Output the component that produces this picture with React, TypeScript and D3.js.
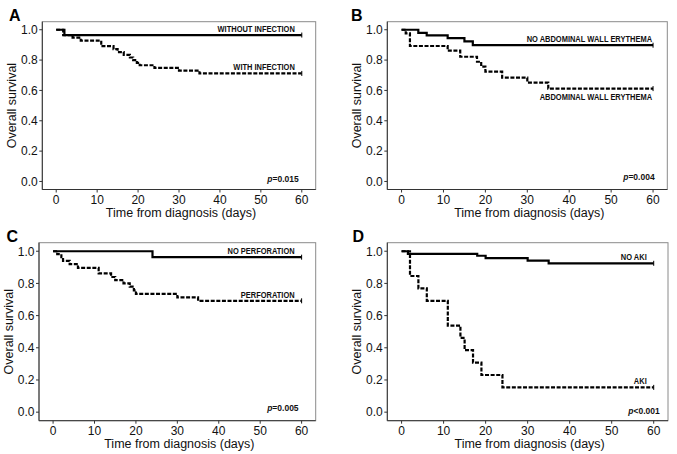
import React from "react";
import * as d3 from "d3";

// ---------- data ----------
const xTicks = [0, 10, 20, 30, 40, 50, 60];
const yTicks = [0, 0.2, 0.4, 0.6, 0.8, 1.0];
const panelLetters = ["A", "B", "C", "D"];

// [time (days), survival]
const aWithoutInfection: [number, number][] = [[0, 1], [2, 0.965]];
const aWithInfection: [number, number][] = [
  [0, 1], [1.7, 0.965], [4, 0.948], [6, 0.928], [11, 0.892], [14, 0.872], [15, 0.853],
  [16.5, 0.835], [18, 0.817], [18.8, 0.8], [19.7, 0.782], [20.4, 0.766], [24, 0.749],
  [30, 0.731], [35, 0.712],
];
const bNoErythema: [number, number][] = [
  [0, 1], [4, 0.98], [6, 0.963], [11, 0.945], [15, 0.923], [17, 0.898],
];
const bErythema: [number, number][] = [
  [0, 1], [1, 0.976], [2, 0.893], [11, 0.862], [14, 0.822], [18, 0.789], [19, 0.757],
  [20, 0.724], [24, 0.684], [30, 0.652], [35, 0.612],
];
const cNoPerforation: [number, number][] = [[0, 1], [24, 0.963]];
const cPerforation: [number, number][] = [
  [0, 1], [1, 0.982], [2, 0.963], [2.4, 0.94], [4, 0.92], [6, 0.896], [11, 0.862],
  [14, 0.84], [15, 0.82], [17, 0.8], [18.5, 0.78], [19.5, 0.757], [20, 0.735],
  [30, 0.713], [35, 0.692],
];
const dNoAki: [number, number][] = [
  [0, 1], [1.5, 0.984], [18, 0.972], [20, 0.957], [30, 0.942], [35, 0.925],
];
const dAki: [number, number][] = [
  [0, 1], [2, 0.846], [4, 0.769], [6, 0.692], [11, 0.538], [14, 0.462], [15, 0.385],
  [17, 0.308], [19, 0.231], [24, 0.154],
];

const solidLabels = ["WITHOUT INFECTION", "NO ABDOMINAL WALL ERYTHEMA", "NO PERFORATION", "NO AKI"];
const dashedLabels = ["WITH INFECTION", "ABDOMINAL WALL ERYTHEMA", "PERFORATION", "AKI"];
const pValues = ["=0.015", "=0.004", "=0.005", "<0.001"];
const solidSeries = [aWithoutInfection, bNoErythema, cNoPerforation, dNoAki];
const dashedSeries = [aWithInfection, bErythema, cPerforation, dAki];

const xTitle = "Time from diagnosis (days)";
const yTitle = "Overall survival";

// ---------- layout ----------
const layouts = [
  { l: 42.3, r: 315.7, t: 21.7, b: 189.5, lx: 9, ly: 20.5, labInset: 7, pDx: -3, pDy: 0.3, dashedBelow: false },
  { l: 387.3, r: 667.3, t: 21.7, b: 189.5, lx: 351, ly: 20.5, labInset: 1, pDx: 1.6, pDy: -1.7, dashedBelow: true },
  { l: 39, r: 315.7, t: 242.7, b: 420.7, lx: 6.5, ly: 242, labInset: 7, pDx: -3, pDy: -1.5, dashedBelow: false },
  { l: 387.3, r: 668, t: 242.7, b: 420.7, lx: 352.5, ly: 242, labInset: 7, pDx: 6, pDy: 2, dashedBelow: false },
];

const FONT = "Arial, 'Liberation Sans', sans-serif";

function Panel({ i }: { i: number }) {
  const L = layouts[i];
  const x = d3.scaleLinear().domain([-3.4, 63.4]).range([L.l, L.r]);
  const y = d3.scaleLinear().domain([-0.053, 1.053]).range([L.b, L.t]);
  const line = d3
    .line<[number, number]>()
    .x((d) => x(d[0]))
    .y((d) => y(d[1]))
    .curve(d3.curveStepAfter);
  const ext = (s: [number, number][]) => [...s, [60, s[s.length - 1][1]] as [number, number]];
  const solid = solidSeries[i];
  const dashed = dashedSeries[i];
  const sEnd = solid[solid.length - 1][1];
  const dEnd = dashed[dashed.length - 1][1];
  const labX = x(60) - L.labInset;
  const sx = 0.88;
  const condensed = (text: string, yy: number) => (
    <g transform={`translate(${labX},${yy}) scale(${sx},1)`}>
      <text x={0} y={0} textAnchor="end" fontSize={8.5} fontWeight="bold" fontFamily={FONT} fill="#111">
        {text}
      </text>
    </g>
  );
  return (
    <g>
      <rect x={L.l} y={L.t} width={L.r - L.l} height={L.b - L.t} fill="white" stroke="#8a8a8a" strokeWidth={1} />
      <line x1={L.l} x2={L.l} y1={L.t} y2={L.b} stroke="#333" strokeWidth={1} />
      <line x1={L.l} x2={L.r} y1={L.b} y2={L.b} stroke="#333" strokeWidth={1} />
      {xTicks.map((t) => (
        <g key={"x" + t}>
          <line x1={x(t)} x2={x(t)} y1={L.b} y2={L.b + 3} stroke="#333" />
          <text x={x(t)} y={L.b + 14} textAnchor="middle" fontSize={12} fontFamily={FONT} fill="#111">
            {t}
          </text>
        </g>
      ))}
      {yTicks.map((t) => (
        <g key={"y" + t}>
          <line x1={L.l - 3} x2={L.l} y1={y(t)} y2={y(t)} stroke="#333" />
          <text x={L.l - 4.5} y={y(t) + 4.3} textAnchor="end" fontSize={12} fontFamily={FONT} fill="#111">
            {d3.format(".1f")(t)}
          </text>
        </g>
      ))}
      <text x={(L.l + L.r) / 2 + 2} y={L.b + 27.5} textAnchor="middle" fontSize={12.5} fontFamily={FONT} fill="#111">
        {xTitle}
      </text>
      <text
        transform={`translate(${L.l - 26},${(L.t + L.b) / 2}) rotate(-90)`}
        textAnchor="middle"
        fontSize={12.5}
        fontFamily={FONT}
        fill="#111"
      >
        {yTitle}
      </text>
      <text x={L.lx} y={L.ly} fontSize={16} fontWeight="bold" fontFamily={FONT} fill="#000">
        {panelLetters[i]}
      </text>
      <path d={line(ext(dashed)) || ""} fill="none" stroke="#000" strokeWidth={2.2} strokeDasharray="4,1.6" />
      <path d={line(ext(solid)) || ""} fill="none" stroke="#000" strokeWidth={2.2} />
      {[sEnd, dEnd].map((v, k) => (
        <line key={"c" + k} x1={x(60)} x2={x(60)} y1={y(v) - 2.5} y2={y(v) + 2.5} stroke="#000" strokeWidth={1} />
      ))}
      {condensed(solidLabels[i], y(sEnd) - 3)}
      {condensed(dashedLabels[i], L.dashedBelow ? y(dEnd) + 11 : y(dEnd) - 3)}
      <text x={x(60) + L.pDx} y={y(0) + L.pDy} textAnchor="end" fontSize={8.5} fontWeight="bold" fontFamily={FONT} fill="#111">
        <tspan fontStyle="italic">p</tspan>
        {pValues[i]}
      </text>
    </g>
  );
}

export default function App() {
  return (
    <svg width={677} height={454} style={{ position: "absolute", left: 0, top: 0, background: "white" }}>
      <rect x={0} y={0} width={677} height={454} fill="white" />
      {[0, 1, 2, 3].map((i) => (
        <Panel key={i} i={i} />
      ))}
    </svg>
  );
}
